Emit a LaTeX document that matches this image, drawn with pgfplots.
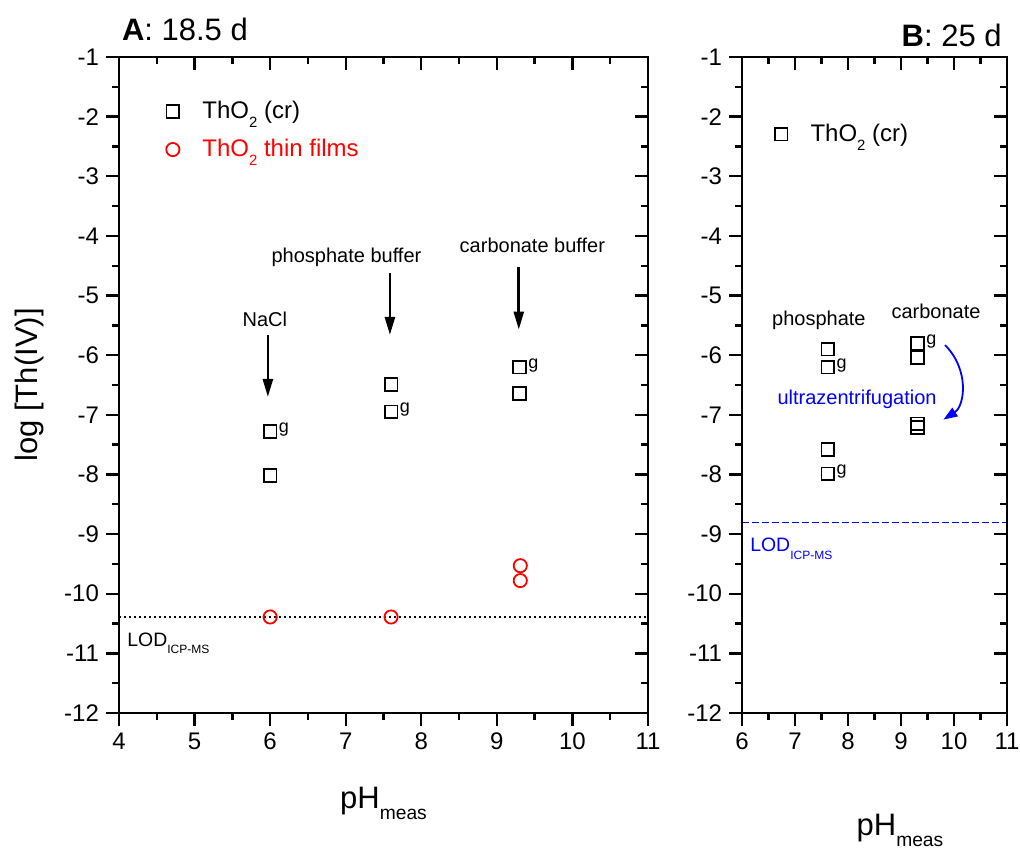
\documentclass[border=0pt]{standalone}
\usepackage{fontspec}
\setmainfont{Liberation Sans}
\usepackage{pgfplots}
\pgfplotsset{compat=1.18}
\usepackage{pgfplotstable}
\usetikzlibrary{arrows.meta}
\newcommand{\sub}[1]{\raisebox{-0.37em}{\scalebox{0.62}{#1}}}
\newcommand{\fs}[1]{\fontsize{#1}{#1}\selectfont}

% Panel A: ThO2(cr) without / with "g" label
\pgfplotstableread{
x y
6.0 -8.02
7.6 -6.49
9.3 -6.64
}\Acr
\pgfplotstableread{
x y
6.0 -7.28
7.6 -6.95
9.3 -6.20
}\Acrg
% Panel A: ThO2 thin films
\pgfplotstableread{
x y
6.0 -10.39
7.6 -10.39
9.31 -9.53
9.31 -9.78
}\Afilm
% Panel B: ThO2(cr)
\pgfplotstableread{
x y
7.62 -5.90
7.62 -7.58
9.31 -6.04
9.31 -7.15
9.31 -7.21
}\Bcr
\pgfplotstableread{
x y
7.62 -6.20
7.62 -7.99
9.31 -5.80
}\Bcrg

\pgfplotsset{
 frame/.style={
  scale only axis, ymin=-12, ymax=-1, ytick={-12,...,-1},
  minor x tick num=1, minor y tick num=1,
  axis line style={line width=1.2pt},
  tick style={line width=1.2pt, black},
  major tick length=6.5pt, minor tick length=3.5pt,
  clip=false,
 },
 main/.style={frame, tick align=outside, xtick pos=left, ytick pos=left,
   ticklabel style={font=\fs{12}},
   /pgf/number format/assume math mode=true,
   legend cell align=left,
   legend image code/.code={\draw[##1] plot coordinates {(0pt,0pt)};},
   legend style={draw=none, fill=none, inner sep=0pt, font=\fs{12}, row sep=4.8pt,
     /tikz/every odd column/.append style={column sep=9.5pt}},
 },
 mirror/.style={frame, tick align=inside, xtick pos=right, ytick pos=right,
   xticklabels={}, yticklabels={}},
 crmark/.style={only marks, mark=square, mark size=3.2pt, black, line width=0.85pt},
 filmmark/.style={only marks, mark=o, mark size=3.3pt, red, line width=0.9pt},
 gnode/.style={nodes near coords={g},
   every node near coord/.style={anchor=base west, inner sep=0pt, xshift=4pt, yshift=-0.5pt, font=\fs{9}, black}},
}

\begin{document}
\begin{tikzpicture}
\path[use as bounding box] (0,0) rectangle (510pt,425.5pt);

% ---------------- Panel A ----------------
\begin{axis}[main, at={(59.5pt,69pt)}, anchor=south west, width=264.5pt, height=328pt,
  xmin=4, xmax=11, xtick={4,...,11},
  xlabel={pH\sub{meas}}, ylabel={log [Th(IV)]},
  every axis x label/.style={at={(axis description cs:0.5,-0.1448)}, anchor=base, font=\fs{15.5}},
  every axis y label/.style={at={(axis description cs:-0.17,0.5)}, rotate=90, anchor=center, font=\fs{15.5}},
  legend style={at={(axis cs:4.62,-1.67)}, anchor=north west},
]
\addplot[crmark] table {\Acr};
\addlegendentry{ThO\sub{2} (cr)}
\addplot[filmmark] table {\Afilm};
\addlegendentry{\textcolor{red}{ThO\sub{2} thin films}}
\addplot[crmark, gnode, forget plot] table {\Acrg};
\addplot[black, line width=0.6pt, dash pattern=on 1pt off 1.5pt, forget plot] coordinates {(4,-10.39) (11,-10.39)};

\node[anchor=base west, inner sep=0pt, font=\fs{15.5}] at ([xshift=1.3pt,yshift=8pt]rel axis cs:0,1) {\textbf{A}: 18.5 d};
\node[anchor=base west, inner sep=0pt, font=\fs{9.7}] at (axis cs:4.106,-10.88) {LOD\sub{ICP-MS}};

\node[anchor=base, inner sep=0pt, font=\fs{10}] at (axis cs:5.93,-5.52) {NaCl};
\node[anchor=base, inner sep=0pt, font=\fs{10}] at (axis cs:7.01,-4.45) {phosphate buffer};
\node[anchor=base, inner sep=0pt, font=\fs{10}] at (axis cs:9.47,-4.28) {carbonate buffer};
\draw[line width=1.3pt, -{Triangle[length=9pt,width=5pt]}] (axis cs:5.97,-5.66) -- (axis cs:5.97,-6.70);
\draw[line width=1.3pt, -{Triangle[length=9pt,width=5pt]}] (axis cs:7.585,-4.63) -- (axis cs:7.585,-5.66);
\draw[line width=1.3pt, -{Triangle[length=9pt,width=5pt]}] (axis cs:9.29,-4.52) -- (axis cs:9.29,-5.57);
\end{axis}
\begin{axis}[mirror, at={(59.5pt,69pt)}, anchor=south west, width=264.5pt, height=328pt,
  xmin=4, xmax=11, xtick={4,...,11}]
\end{axis}

% ---------------- Panel B ----------------
\begin{axis}[main, at={(371pt,69pt)}, anchor=south west, width=132.5pt, height=328pt,
  xmin=6, xmax=11, xtick={6,...,11},
  xlabel={pH\sub{meas}},
  every axis x label/.style={at={(axis description cs:0.596,-0.186)}, anchor=base, font=\fs{15.5}},
  legend style={at={(axis cs:6.61,-2.05)}, anchor=north west},
]
\addplot[crmark] table {\Bcr};
\addlegendentry{ThO\sub{2} (cr)}
\addplot[crmark, gnode, forget plot] table {\Bcrg};
\addplot[blue, line width=0.7pt, dash pattern=on 3.3pt off 1.7pt, forget plot] coordinates {(6,-8.81) (11,-8.81)};

\node[anchor=base east, inner sep=0pt, font=\fs{15.5}] at ([xshift=-2.5pt,yshift=5pt]rel axis cs:1,1) {\textbf{B}: 25 d};
\node[anchor=base west, inner sep=0pt, font=\fs{9.7}, blue] at (axis cs:6.15,-9.30) {LOD\sub{ICP-MS}};
\node[anchor=base, inner sep=0pt, font=\fs{10}] at (axis cs:7.45,-5.50) {phosphate};
\node[anchor=base, inner sep=0pt, font=\fs{10}] at (axis cs:9.66,-5.38) {carbonate};
\node[anchor=base, inner sep=0pt, font=\fs{10}, blue] at (axis cs:8.17,-6.82) {ultrazentrifugation};
\draw[blue, line width=0.9pt, -{Triangle[length=7pt,width=5pt]}] (axis cs:9.83,-5.83) .. controls (axis cs:10.3,-6.25) and (axis cs:10.2,-6.85) .. (axis cs:9.80,-7.08);
\end{axis}
\begin{axis}[mirror, at={(371pt,69pt)}, anchor=south west, width=132.5pt, height=328pt,
  xmin=6, xmax=11, xtick={6,...,11}]
\end{axis}
\end{tikzpicture}
\end{document}
